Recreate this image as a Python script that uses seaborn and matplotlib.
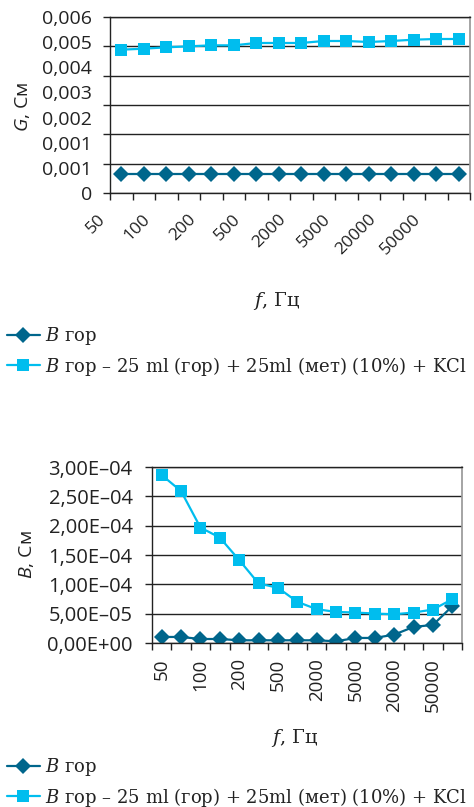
import numpy as np
import matplotlib
matplotlib.use("Agg")
import matplotlib.pyplot as plt
import matplotlib.transforms as mtrans
import seaborn as sns

# частоты (категориальная ось), подписываем каждую вторую
freq = ["50", "75", "100", "150", "200", "300", "500", "1000", "2000", "3000",
        "5000", "10000", "20000", "30000", "50000", "100000"]

# G, См
g_gor = [0.00066, 0.00066, 0.00066, 0.00066, 0.00066, 0.00066, 0.00066, 0.00066,
         0.00066, 0.00066, 0.00066, 0.00066, 0.00066, 0.00066, 0.00066, 0.00066]
g_mix = [0.004886, 0.00492, 0.004966, 0.005, 0.005034, 0.005034, 0.005114, 0.005114,
         0.005114, 0.005182, 0.005182, 0.005148, 0.005182, 0.005227, 0.00525, 0.00525]

# B, См
b_gor = [1.03e-5, 1.03e-5, 0.68e-5, 0.68e-5, 0.46e-5, 0.46e-5, 0.46e-5, 0.46e-5,
         0.46e-5, 0.29e-5, 0.86e-5, 0.86e-5, 1.43e-5, 2.74e-5, 3.08e-5, 6.27e-5]
b_mix = [2.863e-4, 2.589e-4, 1.968e-4, 1.797e-4, 1.414e-4, 1.015e-4, 0.941e-4, 0.702e-4,
         0.576e-4, 0.530e-4, 0.519e-4, 0.502e-4, 0.490e-4, 0.519e-4, 0.570e-4, 0.747e-4]

g_ticks = ["0", "0,001", "0,001", "0,002", "0,003", "0,004", "0,005", "0,006"]
b_ticks = ["0,00E+00", "5,00E–05", "1,00E–04", "1,50E–04", "2,00E–04", "2,50E–04", "3,00E–04"]

lab1 = "$B$ гор"
lab2 = "$B$ гор – 25 ml (гор) + 25ml (мет) (10%) + KCl"

dark = "#00668c"
light = "#00bdee"
ink = "#222222"

sns.set_theme(style="white")
plt.rcParams["font.family"] = ["Open Sans", "DejaVu Sans"]
plt.rcParams["mathtext.fontset"] = "custom"
plt.rcParams["mathtext.rm"] = "DejaVu Serif"
plt.rcParams["mathtext.it"] = "DejaVu Serif:italic"
plt.rcParams["mathtext.sf"] = "Open Sans:italic"

fig = plt.figure(figsize=(4.74, 8.07), dpi=100)
ax1 = fig.add_axes([110 / 474, 1 - 193 / 807, 360 / 474, 176 / 807])
ax2 = fig.add_axes([152 / 474, 1 - 643 / 807, 310 / 474, 176 / 807])

x = np.arange(len(freq))
shown = [f if i % 2 == 0 else "" for i, f in enumerate(freq)]


def draw(ax, y1, y2):
    sns.lineplot(x=x, y=y1, ax=ax, color=dark, marker="D", markersize=8.5,
                 markeredgewidth=0, linewidth=1.6, label=lab1)
    sns.lineplot(x=x, y=y2, ax=ax, color=light, marker="s", markersize=8,
                 markeredgewidth=0, linewidth=1.6, label=lab2)
    ax.get_legend().remove()
    ax.set_xlim(-0.5, len(freq) - 0.5)
    ax.set_xticks(np.arange(-0.5, len(freq), 1), minor=True)
    ax.tick_params(axis="x", which="minor", bottom=True, length=5, width=1,
                   color=ink, direction="out")
    ax.tick_params(axis="x", which="major", bottom=True, length=0, labelcolor=ink)
    ax.grid(axis="y", which="major", color=ink, linewidth=1)
    ax.set_axisbelow(True)
    for s in ["left", "bottom", "top"]:
        ax.spines[s].set_color(ink)
        ax.spines[s].set_linewidth(1)
    ax.spines["right"].set_color("#999999")
    ax.set_xlabel("")
    ax.set_ylabel("")


draw(ax1, g_gor, g_mix)
draw(ax2, b_gor, b_mix)

# верхний график: сетка через 0.001, подписи равномерно (как в оригинале)
ax1.yaxis.remove_overlapping_locs = False
ax1.set_ylim(0, 0.006)
ax1.set_yticks(np.linspace(0, 0.006, 7))
ax1.set_yticklabels([])
ax1.set_yticks(np.linspace(0, 0.006, len(g_ticks)), minor=True)
ax1.set_yticklabels(g_ticks, minor=True)
ax1.tick_params(axis="y", which="major", left=True, length=5, width=1, color=ink)
ax1.tick_params(axis="y", which="minor", left=True, length=0, pad=13,
                labelsize=14, labelcolor=ink)
ax1.set_xticks(x, shown, rotation=45, ha="right", va="center", rotation_mode="anchor")
ax1.tick_params(axis="x", which="major", pad=17, labelsize=12.5)
for lbl in ax1.get_xticklabels():
    lbl.set_transform(lbl.get_transform() +
                      mtrans.ScaledTranslation(-0.18, 0, fig.dpi_scale_trans))

# нижний график
ax2.set_ylim(0, 3e-4)
ax2.set_yticks(np.linspace(0, 3e-4, len(b_ticks)))
ax2.set_yticklabels(b_ticks)
ax2.tick_params(axis="y", which="major", left=True, length=5, width=1, color=ink,
                pad=9, labelsize=14.5, labelcolor=ink)
ax2.set_xticks(x, shown, rotation=90, ha="center", va="top")
ax2.tick_params(axis="x", which="major", pad=11, labelsize=13.5)

# подписи осей
fig.text(23 / 474, 1 - 107 / 807, r"$\mathsf{G}$, См", rotation=90, ha="center",
         va="center", fontsize=14, color=ink)
fig.text(26 / 474, 1 - 555 / 807, r"$\mathsf{B}$, См", rotation=90, ha="center",
         va="center", fontsize=14, color=ink)
fig.text(277 / 474, 1 - 301 / 807, "$f$, Гц", ha="center", va="center",
         fontsize=14, color=ink, family="DejaVu Serif")
fig.text(295 / 474, 1 - 738 / 807, "$f$, Гц", ha="center", va="center",
         fontsize=14, color=ink, family="DejaVu Serif")

# легенды
for ax, ytop in [(ax1, 325), (ax2, 756)]:
    h, l = ax.get_legend_handles_labels()
    fig.legend(h, l, loc="upper left", bbox_to_anchor=(7 / 474, 1 - ytop / 807),
               frameon=False, prop={"family": "DejaVu Serif", "size": 13},
               handlelength=1.8, handletextpad=0.3, labelspacing=0.42,
               borderpad=0, borderaxespad=0, labelcolor=ink)

fig.savefig("out.png", dpi=100)
